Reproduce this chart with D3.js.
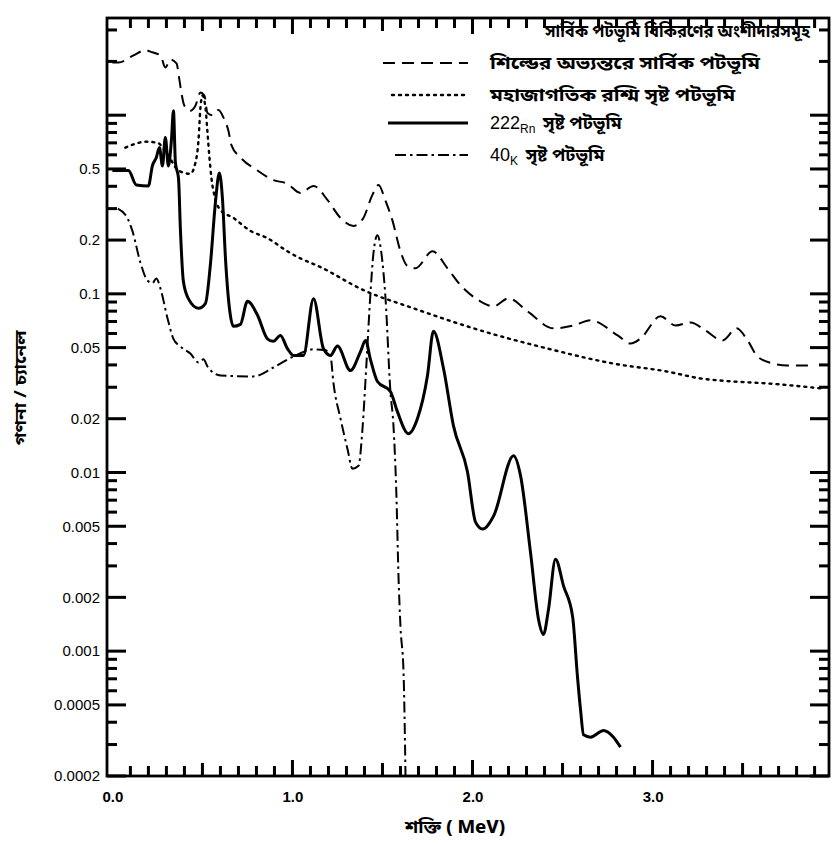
<!DOCTYPE html>
<html>
<head>
<meta charset="utf-8">
<script src="https://cdn.jsdelivr.net/npm/d3@7"></script>
<style>
  html, body { margin: 0; padding: 0; background: #fff; }
  svg { display: block; }
  .bn { font-family: "Noto Sans Bengali", "Noto Sans", "DejaVu Sans", sans-serif; }
  .num { font-family: "Liberation Sans", Arial, sans-serif; }
</style>
</head>
<body>
<svg id="chart" width="838" height="844"></svg>
<script>
// Energy (MeV) and counts per channel for each background component
const shieldEnergy = [0.0, 0.033, 0.117, 0.183, 0.222, 0.267, 0.294, 0.322, 0.356, 0.372, 0.383, 0.40, 0.433, 0.461, 0.489, 0.511, 0.528, 0.556, 0.589, 0.617, 0.644, 0.661, 0.711, 0.806, 0.889, 0.972, 1.044, 1.117, 1.194, 1.267, 1.339, 1.394, 1.444, 1.478, 1.517, 1.556, 1.60, 1.639, 1.683, 1.778, 1.861, 1.933, 2.044, 2.117, 2.20, 2.306, 2.45, 2.561, 2.656, 2.806, 2.878, 2.933, 3.044, 3.128, 3.211, 3.294, 3.389, 3.467, 3.528, 3.583, 3.672, 3.75, 3.889];
const shieldCounts = [1.97, 1.97, 2.16, 2.31, 2.25, 2.16, 1.85, 2.05, 1.95, 1.58, 1.34, 1.13, 1.06, 1.13, 1.34, 1.29, 1.03, 1.0, 1.07, 0.97, 0.82, 0.68, 0.58, 0.49, 0.435, 0.413, 0.367, 0.402, 0.336, 0.266, 0.240, 0.266, 0.358, 0.407, 0.331, 0.256, 0.173, 0.143, 0.139, 0.173, 0.139, 0.112, 0.0908, 0.0851, 0.0944, 0.0798, 0.0641, 0.0665, 0.0711, 0.0585, 0.0527, 0.0562, 0.0748, 0.0665, 0.0692, 0.0624, 0.0548, 0.0641, 0.0548, 0.0446, 0.0407, 0.0397, 0.0397];

const cosmicEnergy = [0.072, 0.128, 0.183, 0.25, 0.311, 0.367, 0.433, 0.461, 0.478, 0.489, 0.50, 0.517, 0.528, 0.539, 0.55, 0.567, 0.60, 0.672, 0.767, 0.861, 0.972, 1.044, 1.144, 1.394, 1.672, 2.044, 2.417, 2.783, 3.083, 3.267, 3.45, 3.639, 3.944];
const cosmicCounts = [0.658, 0.692, 0.711, 0.70, 0.593, 0.49, 0.47, 0.542, 0.72, 1.10, 1.29, 1.10, 0.80, 0.58, 0.445, 0.353, 0.295, 0.266, 0.225, 0.205, 0.173, 0.158, 0.143, 0.105, 0.083, 0.0624, 0.0494, 0.0407, 0.0367, 0.0336, 0.0323, 0.0315, 0.0295];

const radonEnergy = [0.0, 0.089, 0.133, 0.20, 0.222, 0.244, 0.261, 0.278, 0.294, 0.311, 0.328, 0.339, 0.35, 0.367, 0.378, 0.394, 0.422, 0.478, 0.517, 0.544, 0.572, 0.594, 0.611, 0.628, 0.65, 0.672, 0.711, 0.75, 0.806, 0.861, 0.894, 0.933, 0.972, 1.006, 1.061, 1.117, 1.172, 1.211, 1.25, 1.322, 1.378, 1.406, 1.433, 1.472, 1.544, 1.583, 1.644, 1.694, 1.75, 1.783, 1.839, 1.894, 1.972, 2.017, 2.056, 2.117, 2.228, 2.267, 2.322, 2.367, 2.394, 2.422, 2.461, 2.506, 2.556, 2.583, 2.60, 2.617, 2.656, 2.728, 2.783, 2.822];
const radonCounts = [0.49, 0.49, 0.407, 0.402, 0.521, 0.58, 0.66, 0.52, 0.75, 0.52, 0.73, 1.06, 0.542, 0.445, 0.225, 0.118, 0.094, 0.083, 0.0885, 0.145, 0.323, 0.475, 0.344, 0.158, 0.083, 0.0658, 0.0675, 0.0908, 0.0759, 0.056, 0.0542, 0.0585, 0.0494, 0.0452, 0.0452, 0.094, 0.0494, 0.0452, 0.051, 0.0372, 0.0475, 0.0548, 0.043, 0.0323, 0.0284, 0.0219, 0.0165, 0.020, 0.0349, 0.0617, 0.0382, 0.0183, 0.0101, 0.00527, 0.00482, 0.0057, 0.0124, 0.00957, 0.00358, 0.0015, 0.00124, 0.00171, 0.00327, 0.00231, 0.00156, 0.00072, 0.00047, 0.00034, 0.00033, 0.00036, 0.00033, 0.00029];

const potassiumEnergy = [0.03, 0.083, 0.111, 0.156, 0.194, 0.222, 0.244, 0.267, 0.306, 0.339, 0.378, 0.433, 0.478, 0.506, 0.528, 0.60, 0.783, 0.894, 1.006, 1.117, 1.183, 1.211, 1.228, 1.267, 1.306, 1.333, 1.367, 1.389, 1.411, 1.433, 1.45, 1.472, 1.494, 1.517, 1.544, 1.561, 1.578, 1.589, 1.60, 1.617, 1.628];
const potassiumCounts = [0.30, 0.266, 0.225, 0.149, 0.119, 0.115, 0.122, 0.107, 0.073, 0.056, 0.0507, 0.0463, 0.0413, 0.043, 0.0392, 0.0349, 0.0345, 0.0387, 0.0446, 0.0489, 0.0483, 0.0452, 0.0315, 0.020, 0.0135, 0.0105, 0.0109, 0.0176, 0.0407, 0.10, 0.169, 0.213, 0.169, 0.094, 0.0284, 0.0183, 0.0071, 0.00262, 0.00137, 0.00076, 0.0002];

// Axis ticks and labels
const xTickValues = [0, 1, 2, 3];
const xTickLabels = ["0.0", "1.0", "2.0", "3.0"];
const xMinorTicks = [0.1, 0.2, 0.3, 0.4, 0.5, 0.6, 0.7, 0.8, 0.9, 1.0, 1.1, 1.2, 1.3, 1.4, 1.5, 1.6, 1.7, 1.8, 1.9, 2.0, 2.1, 2.2, 2.3, 2.4, 2.5, 2.6, 2.7, 2.8, 2.9, 3.0, 3.1, 3.2, 3.3, 3.4, 3.5, 3.6, 3.7, 3.8, 3.9];
const yTickValues = [0.5, 0.2, 0.1, 0.05, 0.02, 0.01, 0.005, 0.002, 0.001, 0.0005, 0.0002];
const yTickLabels = ["0.5", "0.2", "0.1", "0.05", "0.02", "0.01", "0.005", "0.002", "0.001", "0.0005", "0.0002"];
const yMinorTicks = [0.0003, 0.0004, 0.0006, 0.0007, 0.0008, 0.0009, 0.003, 0.004, 0.006, 0.007, 0.008, 0.009, 0.03, 0.04, 0.06, 0.07, 0.08, 0.09, 0.3, 0.4, 0.6, 0.7, 0.8, 0.9, 2, 3];
const yLongTicks = [1];

const legendTitle = "সার্বিক পটভূমি বিকিরণের অংশীদারসমূহ";
const legendLabels = [
  { main: "শিল্ডের অভ্যন্তরে সার্বিক পটভূমি" },
  { main: "মহাজাগতিক রশ্মি সৃষ্ট পটভূমি" },
  { pre: "222", sub: "Rn", main: " সৃষ্ট পটভূমি" },
  { pre: "40", sub: "K", main: " সৃষ্ট পটভূমি" }
];
const xTitle = "শক্তি ( MeV)";
const yTitle = "গণনা / চ্যানেল";

// Layout
const plot = { left: 107, right: 829, top: 18, bottom: 776 };
const ink = "#000";
const svg = d3.select("#chart");

const x = d3.scaleLinear().domain([-0.03, 3.98]).range([plot.left, plot.right]);
const y = d3.scaleLog().domain([0.0002, 3.5]).range([plot.bottom, plot.top]);

const styles = [
  { dash: "12,7", width: 2.0 },
  { dash: "2,5", width: 2.4 },
  { dash: null, width: 3.0 },
  { dash: "11,4,2.5,4", width: 2.0 }
];

const series = [
  d3.zip(shieldEnergy, shieldCounts),
  d3.zip(cosmicEnergy, cosmicCounts),
  d3.zip(radonEnergy, radonCounts),
  d3.zip(potassiumEnergy, potassiumCounts)
];

// Frame
svg.append("rect")
  .attr("x", plot.left).attr("y", plot.top)
  .attr("width", plot.right - plot.left).attr("height", plot.bottom - plot.top)
  .attr("fill", "none").attr("stroke", ink).attr("stroke-width", 2.8);

// Inward ticks, built as rectangles so they stay crisp
const xLen = v => (Math.abs(v - Math.round(v)) < 1e-6 ? 16 : (Math.abs(v * 2 - Math.round(v * 2)) < 1e-6 ? 13 : 10));
const tickG = svg.append("g").attr("fill", ink);
tickG.selectAll("rect.xb").data(xMinorTicks).join("rect").attr("class", "xb")
  .attr("x", d => x(d) - 1.5).attr("width", 3)
  .attr("y", d => plot.bottom - xLen(d)).attr("height", d => xLen(d));
tickG.selectAll("rect.xt").data(xMinorTicks).join("rect").attr("class", "xt")
  .attr("x", d => x(d) - 1.5).attr("width", 3)
  .attr("y", plot.top).attr("height", d => xLen(d));
const majorY = yTickValues.concat(yLongTicks);
const yTicks = majorY.map(v => ({ v, len: 19 })).concat(yMinorTicks.map(v => ({ v, len: 10 })));
tickG.selectAll("rect.yl").data(yTicks).join("rect").attr("class", "yl")
  .attr("x", plot.left).attr("width", d => d.len)
  .attr("y", d => y(d.v) - 1.5).attr("height", 3);
tickG.selectAll("rect.yr").data(yTicks).join("rect").attr("class", "yr")
  .attr("x", d => plot.right - d.len).attr("width", d => d.len)
  .attr("y", d => y(d.v) - 1.5).attr("height", 3);

// Spectra
svg.append("clipPath").attr("id", "plotclip")
  .append("rect")
  .attr("x", plot.left).attr("y", plot.top)
  .attr("width", plot.right - plot.left).attr("height", plot.bottom - plot.top);
const spectrumLine = d3.line()
  .x(d => x(d[0]))
  .y(d => y(d[1]))
  .curve(d3.curveMonotoneX);
const curves = svg.append("g").attr("clip-path", "url(#plotclip)");
series.forEach((data, i) => {
  curves.append("path")
    .datum(data)
    .attr("d", spectrumLine)
    .attr("fill", "none")
    .attr("stroke", ink)
    .attr("stroke-width", styles[i].width)
    .attr("stroke-dasharray", styles[i].dash)
    .attr("stroke-linejoin", "round")
    .attr("stroke-linecap", i === 1 ? "round" : "butt");
});

// Tick labels drawn through d3 axes
svg.append("g").attr("transform", `translate(0,${plot.bottom})`)
  .call(d3.axisBottom(x).tickValues(xTickValues).tickSize(0).tickPadding(15)
    .tickFormat((d, i) => xTickLabels[i]))
  .call(g => g.select(".domain").remove())
  .call(g => g.selectAll("text")
    .attr("class", "num")
    .attr("font-size", 15).attr("font-weight", "bold").attr("fill", ink));

svg.append("g").attr("transform", `translate(${plot.left},0)`)
  .call(d3.axisLeft(y).tickValues(yTickValues).tickSize(0).tickPadding(7)
    .tickFormat((d, i) => yTickLabels[i]))
  .call(g => g.select(".domain").remove())
  .call(g => g.selectAll("text")
    .attr("class", "num")
    .attr("font-size", 15).attr("fill", ink));

// Axis titles
svg.append("text").attr("class", "bn")
  .attr("x", 455).attr("y", 833).attr("text-anchor", "middle")
  .attr("font-size", 18).attr("font-weight", "bold").attr("fill", ink)
  .attr("textLength", 100).attr("lengthAdjust", "spacingAndGlyphs")
  .text(xTitle);
svg.append("text").attr("class", "bn")
  .attr("transform", "translate(26,388) rotate(-90)")
  .attr("text-anchor", "middle")
  .attr("font-size", 15).attr("font-weight", "bold").attr("fill", ink)
  .attr("textLength", 115).attr("lengthAdjust", "spacingAndGlyphs")
  .text(yTitle);

// Legend
const legend = svg.append("g");
legend.append("text").attr("class", "bn")
  .attr("x", 545).attr("y", 37)
  .attr("font-size", 17).attr("font-weight", "bold").attr("fill", ink)
  .attr("textLength", 265).attr("lengthAdjust", "spacingAndGlyphs")
  .text(legendTitle);
const legendRows = [63, 95, 123, 155];
const legendLineStart = [383, 392, 388, 395];
const legendTextWidth = [270, 245, null, null];
legendLabels.forEach((lab, i) => {
  const yy = legendRows[i];
  legend.append("line")
    .attr("x1", legendLineStart[i]).attr("x2", 468)
    .attr("y1", yy).attr("y2", yy)
    .attr("stroke", ink)
    .attr("stroke-width", styles[i].width)
    .attr("stroke-dasharray", styles[i].dash)
    .attr("stroke-linecap", i === 1 ? "round" : "butt");
  const t = legend.append("text").attr("class", "bn")
    .attr("x", 490).attr("y", yy + 6)
    .attr("font-size", 18).attr("font-weight", "bold").attr("fill", ink);
  if (lab.pre) {
    t.append("tspan").attr("class", "num").attr("font-weight", "normal").attr("font-size", 18).text(lab.pre);
    t.append("tspan").attr("class", "num").attr("font-weight", "normal")
      .attr("font-size", 12).attr("dy", 4).text(lab.sub);
    t.append("tspan").attr("dy", -4).attr("dx", 3).text(lab.main);
  } else {
    t.attr("textLength", legendTextWidth[i]).attr("lengthAdjust", "spacingAndGlyphs").text(lab.main);
  }
});
</script>
</body>
</html>
